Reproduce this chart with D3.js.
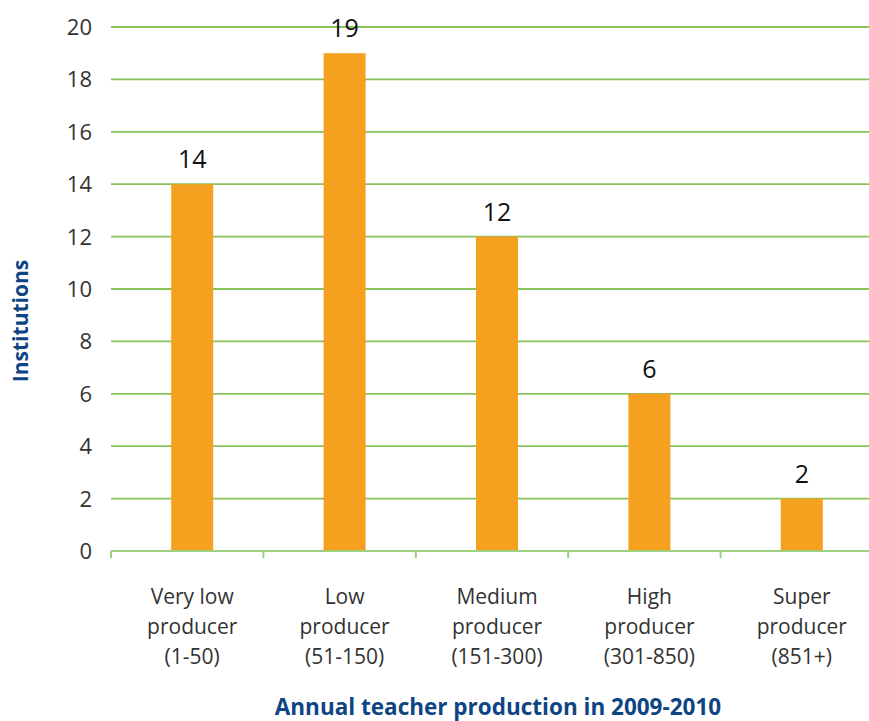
<!DOCTYPE html>
<html lang="en">
<head>
<meta charset="UTF-8">
<title>Annual teacher production</title>
<style>
  body { margin: 0; background: #fff; }
  svg { display: block; font-family: "Open Sans", "Noto Sans", sans-serif; }
</style>
</head>
<body>
<svg width="869" height="721"></svg>
<script src="https://d3js.org/d3.v7.min.js"></script>
<script>
// data
const categories = [
  ["Very low", "producer", "(1-50)"],
  ["Low", "producer", "(51-150)"],
  ["Medium", "producer", "(151-300)"],
  ["High", "producer", "(301-850)"],
  ["Super", "producer", "(851+)"]
];
const institutions = [14, 19, 12, 6, 2];
const yTicks = [0, 2, 4, 6, 8, 10, 12, 14, 16, 18, 20];

const svg = d3.select("svg");
const plotLeft = 111, plotRight = 873, plotTop = 27, plotBottom = 551;
const shift = 5; // bars sit a little right of the band centre

const x = d3.scaleBand().domain(d3.range(categories.length)).range([plotLeft, plotRight]);
const y = d3.scaleLinear().domain([0, 20]).range([plotBottom, plotTop]);
const barW = 42;

// gridlines
svg.append("g").selectAll("line")
  .data(yTicks.filter(d => d > 0))
  .join("line")
  .attr("x1", plotLeft).attr("x2", 869)
  .attr("y1", d => y(d)).attr("y2", d => y(d))
  .attr("stroke", "#86c45a").attr("stroke-width", 1.8);

// y tick labels
svg.append("g").selectAll("text")
  .data(yTicks)
  .join("text")
  .attr("x", 92).attr("y", d => y(d))
  .attr("dy", "0.36em")
  .attr("text-anchor", "end")
  .attr("font-size", 22)
  .attr("fill", "#333")
  .text(d => d);

// bars
svg.append("g").selectAll("rect")
  .data(institutions)
  .join("rect")
  .attr("x", (d, i) => x(i) + x.bandwidth() / 2 + shift - barW / 2)
  .attr("width", barW)
  .attr("y", d => y(d))
  .attr("height", d => y(0) - y(d))
  .attr("fill", "#f5a01e");

// baseline + ticks
svg.append("line")
  .attr("x1", plotLeft).attr("x2", 869)
  .attr("y1", plotBottom).attr("y2", plotBottom)
  .attr("stroke", "#9fd07e").attr("stroke-width", 2);
svg.append("g").selectAll("line")
  .data(d3.range(categories.length))
  .join("line")
  .attr("x1", i => x(i)).attr("x2", i => x(i))
  .attr("y1", plotBottom).attr("y2", plotBottom + 7)
  .attr("stroke", "#9fd07e").attr("stroke-width", 2);

// value labels
svg.append("g").selectAll("text")
  .data(institutions)
  .join("text")
  .attr("x", (d, i) => x(i) + x.bandwidth() / 2 + shift)
  .attr("y", d => y(d) - 16)
  .attr("text-anchor", "middle")
  .attr("font-size", 25)
  .attr("fill", "#111")
  .text(d => d);

// category labels
const cat = svg.append("g").selectAll("text")
  .data(categories)
  .join("text")
  .attr("x", (d, i) => x(i) + x.bandwidth() / 2 + shift)
  .attr("y", 604)
  .attr("text-anchor", "middle")
  .attr("font-size", 21)
  .attr("fill", "#333");
cat.selectAll("tspan")
  .data(d => d)
  .join("tspan")
  .attr("x", function () { return this.parentNode.getAttribute("x"); })
  .attr("dy", (d, i) => i === 0 ? 0 : 30)
  .text(d => d);

// axis titles
svg.append("text")
  .attr("x", 498).attr("y", 715)
  .attr("text-anchor", "middle")
  .attr("font-size", 22.5).attr("font-weight", "bold")
  .attr("fill", "#0d4583")
  .text("Annual teacher production in 2009-2010");

svg.append("text")
  .attr("transform", "translate(28,321) rotate(-90)")
  .attr("text-anchor", "middle")
  .attr("font-size", 21).attr("font-weight", "bold")
  .attr("fill", "#0d4583")
  .text("Institutions");
</script>
</body>
</html>
